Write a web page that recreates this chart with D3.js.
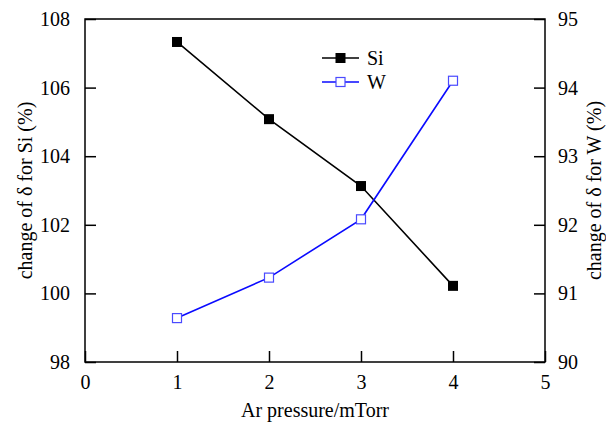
<!DOCTYPE html>
<html>
<head>
<meta charset="utf-8">
<script src="https://cdn.jsdelivr.net/npm/d3@7"></script>
</head>
<body style="margin:0">
<div id="chart"></div>
<script>
// Data
var pressure = [1, 2, 3, 4];
var siValues = [107.33, 105.08, 103.13, 100.22];
var wValues = [90.64, 91.23, 92.08, 94.10];
var xTicks = [0, 1, 2, 3, 4, 5];
var leftTicks = [98, 100, 102, 104, 106, 108];
var rightTicks = [90, 91, 92, 93, 94, 95];

var serif = 'Liberation Serif';
var fs = '20px';

// Size variables
var width = 606, height = 422;
var margin = {left: 85, right: 61, top: 19, bottom: 60};
var plotW = width - margin.left - margin.right;
var plotH = height - margin.top - margin.bottom;

var svg = d3.select('#chart')
    .append('svg')
    .attr('width', width)
    .attr('height', height);

var g = svg.append('g')
    .attr('transform', `translate(${margin.left}, ${margin.top})`);

// Scales
var xScale = d3.scaleLinear().domain([0, 5]).range([0, plotW]);
var yLeft = d3.scaleLinear().domain([98, 108]).range([plotH, 0]);
var yRight = d3.scaleLinear().domain([90, 95]).range([plotH, 0]);

// Axes (ticks point inward)
var tickLen = 11;
function styleAxis(sel) {
    sel.select('.domain').remove();
    sel.selectAll('.tick line').attr('stroke', '#000').attr('stroke-width', 1.5);
    sel.selectAll('.tick text')
        .style('font-family', serif)
        .style('font-size', fs)
        .style('fill', '#000');
}

g.append('g')
    .attr('transform', `translate(0, ${plotH})`)
    .call(d3.axisBottom(xScale).tickValues(xTicks).tickSizeInner(-tickLen).tickSizeOuter(0).tickPadding(13).tickFormat(d3.format('d')))
    .call(styleAxis);

g.append('g')
    .call(d3.axisLeft(yLeft).tickValues(leftTicks).tickSizeInner(-tickLen).tickSizeOuter(0).tickPadding(15).tickFormat(d3.format('d')))
    .call(styleAxis);

g.append('g')
    .attr('transform', `translate(${plotW}, 0)`)
    .call(d3.axisRight(yRight).tickValues(rightTicks).tickSizeInner(-tickLen).tickSizeOuter(0).tickPadding(13).tickFormat(d3.format('d')))
    .call(styleAxis);

// Frame
g.append('rect')
    .attr('x', 0).attr('y', 0)
    .attr('width', plotW).attr('height', plotH)
    .attr('fill', 'none')
    .attr('stroke', '#000')
    .attr('stroke-width', 1.5);

// Axis titles
function label(sel) {
    return sel.style('font-family', serif).style('font-size', fs).style('fill', '#000');
}

svg.append('text')
    .attr('x', margin.left + plotW / 2)
    .attr('y', 417)
    .attr('text-anchor', 'middle')
    .call(label)
    .text('Ar pressure/mTorr');

svg.append('text')
    .attr('transform', `translate(32, ${margin.top + plotH / 2}) rotate(-90)`)
    .attr('text-anchor', 'middle')
    .call(label)
    .text('change of δ for Si (%)');

svg.append('text')
    .attr('transform', `translate(601, ${margin.top + plotH / 2}) rotate(-90)`)
    .attr('text-anchor', 'middle')
    .call(label)
    .text('change of δ for W (%)');

// Series
var siLine = d3.line().x((d, i) => xScale(pressure[i])).y((d) => yLeft(d));
var wLine = d3.line().x((d, i) => xScale(pressure[i])).y((d) => yRight(d));

g.append('path')
    .datum(siValues)
    .attr('d', siLine)
    .attr('fill', 'none')
    .attr('stroke', '#000')
    .attr('stroke-width', 1.6);

g.append('path')
    .datum(wValues)
    .attr('d', wLine)
    .attr('fill', 'none')
    .attr('stroke', '#0a0aff')
    .attr('stroke-width', 1.6);

var ms = 10;
g.selectAll('.si-pt')
    .data(siValues)
    .enter()
    .append('rect')
    .attr('class', 'si-pt')
    .attr('x', (d, i) => xScale(pressure[i]) - ms / 2)
    .attr('y', (d) => yLeft(d) - ms / 2)
    .attr('width', ms).attr('height', ms)
    .attr('fill', '#000');

g.selectAll('.w-pt')
    .data(wValues)
    .enter()
    .append('rect')
    .attr('class', 'w-pt')
    .attr('x', (d, i) => xScale(pressure[i]) - ms / 2 + 0.5)
    .attr('y', (d) => yRight(d) - ms / 2 + 0.5)
    .attr('width', ms - 1).attr('height', ms - 1)
    .attr('fill', '#fff')
    .attr('stroke', '#4a4aff')
    .attr('stroke-width', 1.2);

// Legend
var legend = svg.append('g').attr('transform', 'translate(322, 58)');
legend.append('line').attr('x1', 0).attr('x2', 37).attr('y1', 0).attr('y2', 0)
    .attr('stroke', '#000').attr('stroke-width', 1.6);
legend.append('rect').attr('x', 18.5 - ms / 2).attr('y', -ms / 2).attr('width', ms).attr('height', ms).attr('fill', '#000');
legend.append('text').attr('x', 45).attr('y', 7).call(label).text('Si');

legend.append('line').attr('x1', 0).attr('x2', 37).attr('y1', 24).attr('y2', 24)
    .attr('stroke', '#0a0aff').attr('stroke-width', 1.6);
legend.append('rect').attr('x', 18.5 - ms / 2 + 0.5).attr('y', 24 - ms / 2 + 0.5).attr('width', ms - 1).attr('height', ms - 1)
    .attr('fill', '#fff').attr('stroke', '#4a4aff').attr('stroke-width', 1.2);
legend.append('text').attr('x', 45).attr('y', 31).call(label).text('W');
</script>
</body>
</html>
